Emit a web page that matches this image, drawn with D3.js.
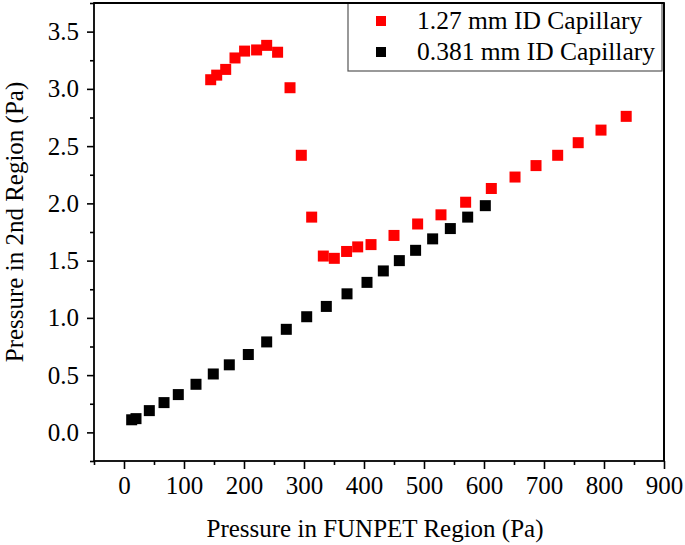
<!DOCTYPE html>
<html><head><meta charset="utf-8">
<script src="https://cdn.jsdelivr.net/npm/d3@7"></script>
<style>
body{margin:0;background:#fff;}
svg{display:block;}
text{font-family:"Times New Roman","Liberation Serif",serif;fill:#000;}
</style></head>
<body><div id="chart"></div>
<script>
const seriesNames = ["1.27 mm ID Capillary", "0.381 mm ID Capillary"];
const seriesColors = ["#ff0000", "#000000"];
const redX = [144.5,154.5,169.5,185,201,221,237.8,256,276.7,295.5,312.8,332.2,350.5,371,389.5,411.7,450,489.4,528.3,569.4,612.2,651.7,686.7,722.8,757,795,837];
const redY = [3.08,3.12,3.17,3.27,3.33,3.34,3.38,3.32,3.01,2.42,1.88,1.54,1.52,1.58,1.62,1.64,1.72,1.82,1.90,2.01,2.13,2.23,2.33,2.42,2.53,2.64,2.76];
const blackX = [12.8,20,42.2,66.7,90.5,120,148.8,175.5,207.2,237.8,270.5,304.5,337.2,371.7,405,432.2,458.9,486,514.4,543.9,572.8,602.2];
const blackY = [0.11,0.12,0.19,0.26,0.33,0.42,0.51,0.59,0.68,0.79,0.90,1.01,1.10,1.21,1.31,1.41,1.50,1.59,1.69,1.78,1.88,1.98];
const xTicks = [0,100,200,300,400,500,600,700,800,900];
const xMinor = [-50,50,150,250,350,450,550,650,750,850];
const yTicks = [0.0,0.5,1.0,1.5,2.0,2.5,3.0,3.5];
const yMinor = [-0.25,0.25,0.75,1.25,1.75,2.25,2.75,3.25,3.75];
const xTitle = "Pressure in FUNPET Region (Pa)";
const yTitle = "Pressure in 2nd Region (Pa)";

const W = 685, H = 545;
const L = 94, R = 664, T = 3, B = 461;
const svg = d3.select("#chart").append("svg").attr("width", W).attr("height", H);
const x = d3.scaleLinear().domain([-50, 900]).range([L, R]);
const y = d3.scaleLinear().domain([-0.25, 3.75]).range([B, T]);

const fs = 25;
// x axis
const gx = svg.append("g").attr("transform", `translate(0,${B})`)
  .call(d3.axisBottom(x).tickValues(xTicks).tickSize(8).tickPadding(7).tickFormat(d3.format("d")));
gx.selectAll("text").style("font-size", fs + "px");
svg.append("g").attr("transform", `translate(0,${B})`)
  .call(d3.axisBottom(x).tickValues(xMinor).tickSize(4).tickFormat(""));
// y axis
const gy = svg.append("g").attr("transform", `translate(${L},0)`)
  .call(d3.axisLeft(y).tickValues(yTicks).tickSize(7).tickPadding(8).tickFormat(d3.format(".1f")));
gy.selectAll("text").style("font-size", fs + "px");
svg.append("g").attr("transform", `translate(${L},0)`)
  .call(d3.axisLeft(y).tickValues(yMinor).tickSize(4).tickFormat(""));
svg.selectAll(".domain").remove();
svg.selectAll(".tick line").attr("stroke", "#000").attr("stroke-width", 1.6);

// frame
svg.append("rect").attr("x", L).attr("y", T).attr("width", R - L).attr("height", B - T)
  .attr("fill", "none").attr("stroke", "#000").attr("stroke-width", 1.8);

// titles
svg.append("text").attr("x", (L + R) / 2 - 4).attr("y", 537).attr("text-anchor", "middle")
  .style("font-size", "25px").text(xTitle);
svg.append("text").attr("transform", `translate(23,${222}) rotate(-90)`).attr("text-anchor", "middle")
  .style("font-size", "25px").text(yTitle);

// data
const ms = 11;
const series = [
  {xs: redX, ys: redY, c: seriesColors[0]},
  {xs: blackX, ys: blackY, c: seriesColors[1]}
];
series.slice().reverse().forEach(s => {
  svg.append("g").selectAll("rect").data(s.xs.map((v, i) => [v, s.ys[i]])).join("rect")
    .attr("x", d => x(d[0]) - ms / 2).attr("y", d => y(d[1]) - ms / 2)
    .attr("width", ms).attr("height", ms).attr("fill", s.c);
});

// legend
const lg = svg.append("g");
lg.append("rect").attr("x", 348).attr("y", T).attr("width", 662 - 348).attr("height", 71 - T)
  .attr("fill", "#fff").attr("stroke", "#555").attr("stroke-width", 1.2);
seriesNames.forEach((n, i) => {
  const cy = 21 + i * 31;
  lg.append("rect").attr("x", 381 - 5).attr("y", cy - 5).attr("width", 10).attr("height", 10)
    .attr("fill", seriesColors[i]);
  lg.append("text").attr("x", 417).attr("y", cy + 8).style("font-size", "25.5px").text(n);
});
svg.append("line").attr("x1", L).attr("x2", R).attr("y1", T).attr("y2", T).attr("stroke", "#000").attr("stroke-width", 1.8);
svg.append("line").attr("x1", R).attr("x2", R).attr("y1", T).attr("y2", B).attr("stroke", "#000").attr("stroke-width", 1.8);
</script></body></html>
